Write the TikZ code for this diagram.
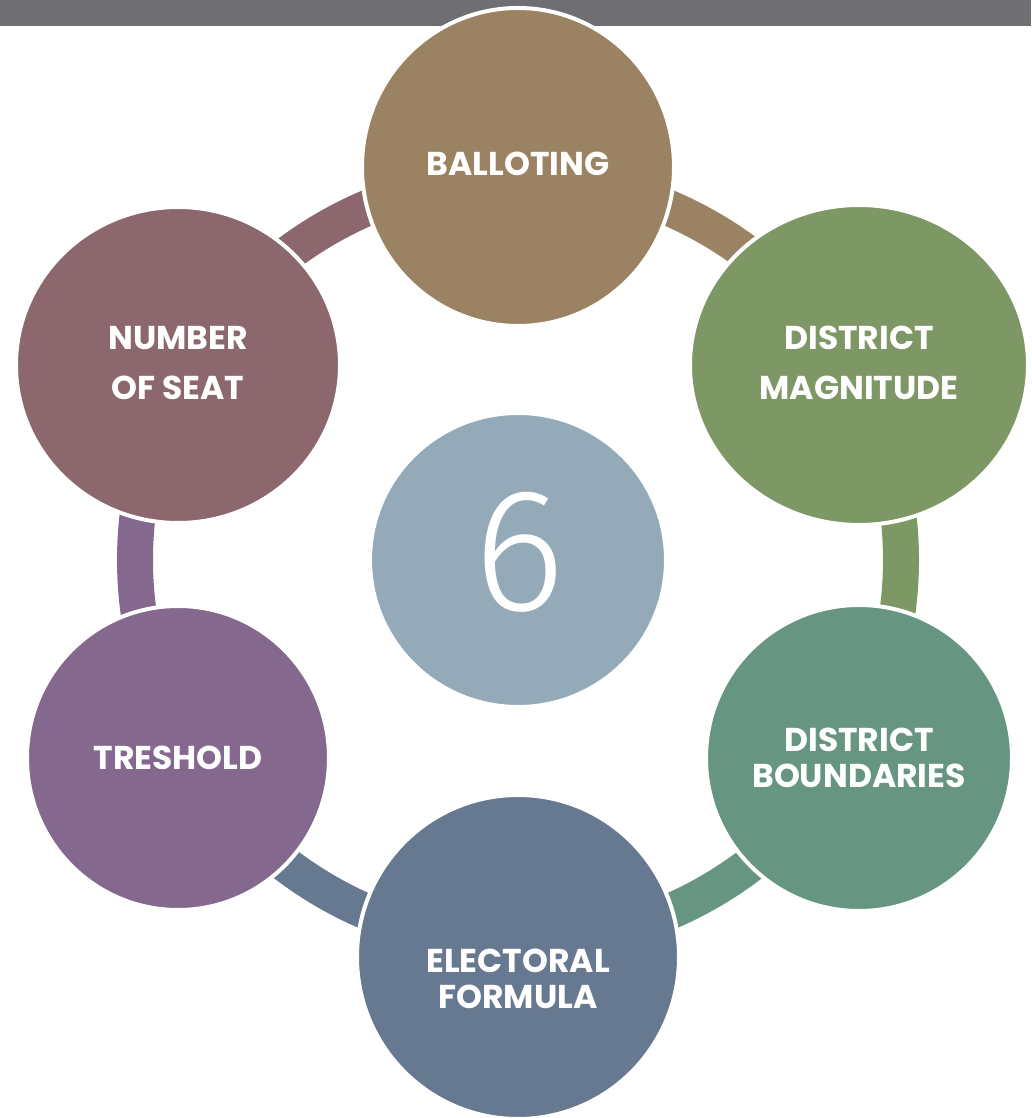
\documentclass[tikz,border=0pt]{standalone}
\usepackage{fontspec}
\setmainfont{Poppins}
\newfontfamily\digitfont{Fira Sans Light}
\usetikzlibrary{positioning,shapes.geometric,calc}

\definecolor{topbar}{HTML}{6F6E73}
\definecolor{ballot}{HTML}{9B8262}
\definecolor{magn}{HTML}{7E9865}
\definecolor{bound}{HTML}{669682}
\definecolor{formula}{HTML}{677891}
\definecolor{thresh}{HTML}{84688D}
\definecolor{seats}{HTML}{8C686E}
\definecolor{hub}{HTML}{94AAB9}

\begin{document}
\begin{tikzpicture}[x=1pt, y=1pt,
    disc/.style={ellipse, draw=white, line width=4pt, inner sep=0pt},
    caption/.style={text=white, align=center, font=\fontsize{33}{36}\selectfont\bfseries},
    tallcaption/.style={caption, font=\fontsize{33}{50}\selectfont\bfseries},
    ringpart/.style={line width=36pt}]
    \useasboundingbox (0,0) rectangle (1031,1118);

    % Header bar
    \fill[topbar] (0,1092) rectangle (1031,1118);

    % Ring segments
    \coordinate (ring) at (518,558);
    \foreach \a/\col in {150/seats, 90/ballot, 30/magn, -30/bound, -90/formula, 210/thresh}
        \draw[ringpart, \col] (ring) ++(\a:383) arc[start angle=\a, end angle=\a-60, radius=383];

    % Outer circles
    \node[disc, fill=ballot, minimum width=312pt, minimum height=318pt] (balloting) at (518,951) {};
    \node[disc, fill=magn, minimum width=338pt, minimum height=320pt] (magnitude) at (859,753) {};
    \node[disc, fill=bound, minimum width=306pt, minimum height=306pt] (boundaries) at (859,360) {};
    \node[disc, fill=formula, minimum width=322pt, minimum height=324pt] (formula) at (518,161) {};
    \node[disc, fill=thresh, minimum width=302pt, minimum height=304pt] (treshold) at (178,360) {};
    \node[disc, fill=seats, minimum width=324pt, minimum height=316pt] (seat) at (178,753) {};

    % Hub
    \node[disc, fill=hub, minimum width=296pt, minimum height=294pt] (hub) at (ring) {};
    \node[text=white, font=\fontsize{175}{175}\selectfont\digitfont] (six) at ($(hub)+(1,8)$) {6};

    % Labels
    \node[caption] (t_ballot) at ($(balloting)+(0,3)$) {BALLOTING};
    \node[tallcaption] (t_magn) at ($(magnitude)+(0,2)$) {DISTRICT\\MAGNITUDE};
    \node[caption] (t_bound) at (boundaries) {DISTRICT\\BOUNDARIES};
    \node[caption] (t_formula) at ($(formula)+(0,-22)$) {ELECTORAL\\FORMULA};
    \node[caption] (t_thresh) at (treshold) {TRESHOLD};
    \node[tallcaption] (t_seat) at ($(seat)+(0,2)$) {NUMBER\\OF SEAT};
\end{tikzpicture}
\end{document}
